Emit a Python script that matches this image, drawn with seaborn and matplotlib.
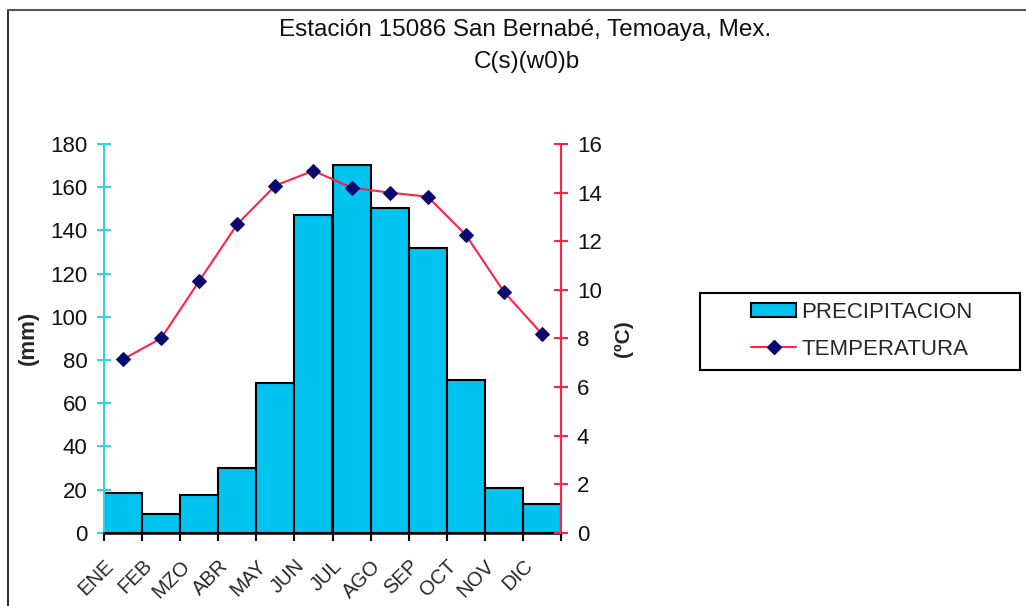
import matplotlib
matplotlib.use("Agg")
import matplotlib.pyplot as plt
import matplotlib.transforms as mtransforms
import seaborn as sns
import pandas as pd
import numpy as np
from matplotlib.patches import Patch, Rectangle
from matplotlib.lines import Line2D

meses = ["ENE", "FEB", "MZO", "ABR", "MAY", "JUN", "JUL", "AGO", "SEP", "OCT", "NOV", "DIC"]
precipitacion = [18.2, 8.7, 17.5, 30.1, 69.5, 147.1, 170.5, 150.2, 131.7, 70.7, 20.6, 13.3]
temperatura = [7.14, 8.0, 10.36, 12.7, 14.29, 14.9, 14.2, 14.0, 13.83, 12.26, 9.92, 8.18]
titulo1 = "Estación 15086 San Bernabé, Temoaya, Mex."
titulo2 = "C(s)(w0)b"

sns.set_theme(style="white")
plt.rcParams["font.family"] = ["Liberation Sans", "DejaVu Sans"]

BAR = "#00C3F0"
CYAN = "#33D6D6"
RED = "#FF2244"
NAVY = "#0A0A6E"

df = pd.DataFrame({"mes": meses, "pp": precipitacion, "t": temperatura})

fig = plt.figure(figsize=(10.26, 6.06), dpi=100)
ax = fig.add_axes([104/1026, 1-532.7/606, 457/1026, 388.7/606])

sns.barplot(data=df, x="mes", y="pp", order=meses, color=BAR, width=1.0,
            edgecolor="black", linewidth=1.5, saturation=1, ax=ax)
for p in ax.patches:
    p.set_facecolor(BAR)
ax.set_xlim(-0.5, 11.5)
ax.set_ylim(0, 180)
ax.set_yticks(np.arange(0, 181, 20))
ax.set_xlabel("")
ax.set_ylabel("(mm)", fontsize=16, fontweight="bold", labelpad=8)

ax2 = ax.twinx()
sns.lineplot(data=df, x="mes", y="t", sort=False, color=RED, linewidth=1.5,
             marker="D", markersize=7, markerfacecolor=NAVY, markeredgecolor=NAVY, ax=ax2)
ax2.set_ylim(0, 16)
ax2.set_yticks(np.arange(0, 17, 2))
ax2.set_xlim(-0.5, 11.5)
ax2.set_xlabel("")
ax2.set_ylabel("(ºC)", fontsize=15, fontweight="bold", labelpad=9, rotation=90)

ax.spines["top"].set_visible(False)
ax2.spines["top"].set_visible(False)
ax.spines["right"].set_visible(False)
ax.spines["left"].set_color(CYAN)
ax.spines["left"].set_linewidth(1.5)
ax.spines["bottom"].set_color("black")
ax.spines["bottom"].set_linewidth(1.8)
ax2.spines["left"].set_visible(False)
ax2.spines["bottom"].set_visible(False)
ax2.spines["right"].set_color(RED)
ax2.spines["right"].set_linewidth(1.5)

ax.tick_params(axis="y", direction="inout", length=10, width=1.5, color=CYAN,
               labelsize=16, labelcolor="#111111", left=True, pad=7)
ax2.tick_params(axis="y", direction="inout", length=10, width=1.5, color=RED,
                labelsize=16, labelcolor="#111111", right=True, pad=6.5)

ax.set_xticks(np.arange(12))
ax.set_xticklabels(meses, rotation=45, ha="right", rotation_mode="anchor", fontsize=14.5)
ax.tick_params(axis="x", length=0, pad=17, bottom=True)
ax.set_xticks(np.arange(-0.5, 12, 1), minor=True)
ax.tick_params(axis="x", which="minor", direction="out", length=6, width=1.5, color="black", bottom=True)
offset = mtransforms.ScaledTranslation(-0.19, 0, fig.dpi_scale_trans)
for lab in ax.get_xticklabels():
    lab.set_transform(lab.get_transform() + offset)

fig.text(525/1026, 1-30/606, titulo1, ha="center", va="center", fontsize=17.5, color="#111111")
fig.text(527/1026, 1-62/606, titulo2, ha="center", va="center", fontsize=17.5, color="#111111")

handles = [Patch(facecolor=BAR, edgecolor="black", linewidth=1.5),
           Line2D([0], [0], color=RED, linewidth=1.5, marker="D", markersize=7,
                  markerfacecolor=NAVY, markeredgecolor=NAVY)]
leg = fig.legend(handles, ["PRECIPITACION", "TEMPERATURA"],
                 loc="center", bbox_to_anchor=(862/1026, 1-331/606),
                 fontsize=16, frameon=False,
                 handlelength=2.0, handleheight=0.6, handletextpad=0.25,
                 borderpad=0.3, labelspacing=0.7, borderaxespad=0)
fig.add_artist(Rectangle((700/1026, 1-370/606), 320/1026, 77/606, transform=fig.transFigure,
                         facecolor="none", edgecolor="black", linewidth=1.5))

fig.add_artist(Line2D([8/1026, 8/1026], [0, 1-10/606], transform=fig.transFigure, color="#333333", linewidth=1.5))
fig.add_artist(Line2D([8/1026, 1], [1-10/606, 1-10/606], transform=fig.transFigure, color="#555555", linewidth=1.5))

fig.savefig("out.png", dpi=100, facecolor="white")
